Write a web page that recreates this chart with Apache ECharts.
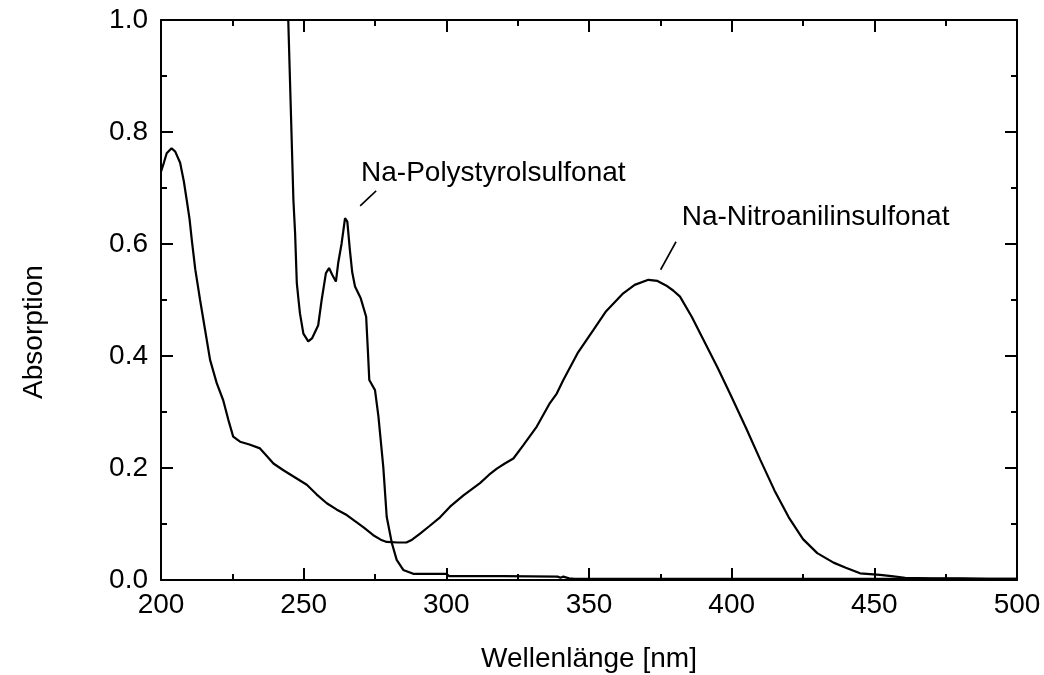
<!DOCTYPE html>
<html>
<head>
<meta charset="utf-8">
<script src="https://cdn.jsdelivr.net/npm/echarts@6/dist/echarts.min.js"></script>
<style>
  html, body { margin: 0; padding: 0; background: #fff; }
  #chart { width: 1044px; height: 675px; }
</style>
</head>
<body>
<div id="chart"></div>
<script>
// UV/Vis absorption spectra: [wavelength nm, absorbance]
const nitroanilinSpectrum = [
  [200, 0.729], [201, 0.745], [202, 0.762], [203.7, 0.771], [205, 0.765],
  [206.7, 0.745], [208, 0.712], [209, 0.679], [210, 0.645], [210.8, 0.607],
  [212, 0.555], [213.7, 0.50], [215.5, 0.445], [217.2, 0.393], [219.5, 0.352],
  [221.8, 0.321], [223.6, 0.286], [225.3, 0.256], [227.7, 0.247], [231, 0.242],
  [234.7, 0.235], [237, 0.222], [239.4, 0.208], [242.9, 0.196], [247, 0.183],
  [251.1, 0.170], [254.5, 0.153], [258.1, 0.137], [261.5, 0.126], [265.1, 0.116],
  [268, 0.105], [271, 0.094], [274.4, 0.080], [277, 0.072], [279.1, 0.068],
  [283, 0.067], [286, 0.067], [288, 0.072], [290.8, 0.083], [294, 0.096],
  [297.8, 0.112], [301.3, 0.131], [306, 0.151], [311.8, 0.173], [315, 0.188],
  [317.7, 0.199], [320.5, 0.208], [323.5, 0.217], [327, 0.241], [331.7, 0.274],
  [336.3, 0.316], [338.7, 0.333], [341, 0.357], [346, 0.405], [351.5, 0.446],
  [356, 0.480], [362, 0.512], [366, 0.527], [370.8, 0.536], [374, 0.534],
  [377, 0.526], [379.5, 0.517], [381.9, 0.506], [386, 0.470], [390.1, 0.429],
  [395, 0.380], [399.4, 0.333], [405, 0.272], [410, 0.215], [415, 0.160],
  [420, 0.112], [425, 0.073], [430, 0.048], [435.7, 0.031], [440, 0.022],
  [445, 0.012], [452, 0.009], [456, 0.007], [460.8, 0.004], [470, 0.003],
  [480, 0.003], [490, 0.002], [500, 0.002]
];

const polystyrolSpectrum = [
  [244.6, 1.0], [245.5, 0.84], [246.4, 0.679], [247, 0.619], [247.6, 0.530],
  [248.2, 0.50], [248.7, 0.476], [249.9, 0.44], [251.6, 0.426], [253, 0.432],
  [255.1, 0.455], [256.3, 0.50], [257.8, 0.548], [258.9, 0.557], [260, 0.545],
  [261.3, 0.533], [262.1, 0.566], [263.3, 0.601], [264.5, 0.646], [265.3, 0.640],
  [266.2, 0.589], [267, 0.55], [268, 0.524], [270, 0.503], [271.9, 0.470],
  [272.5, 0.41], [273, 0.357], [275, 0.339], [276.2, 0.292], [277.9, 0.202],
  [279.1, 0.113], [280.9, 0.066], [282.6, 0.036], [284.9, 0.018], [288.4, 0.011],
  [295, 0.011], [300, 0.011], [301, 0.007], [320, 0.007], [339, 0.006],
  [340, 0.004], [341, 0.006], [343, 0.003], [345, 0.002], [400, 0.002],
  [500, 0.002]
];

// Annotation text and leader lines, in data coordinates
const annotationTexts = [
  { text: 'Na-Polystyrolsulfonat', at: [270.1, 0.727] },
  { text: 'Na-Nitroanilinsulfonat', at: [382.5, 0.647] }
];
const leaderLines = [
  [[269.8, 0.668], [275.4, 0.695]],
  [[375.1, 0.554], [380.5, 0.604]]
];

const xTicks = { min: 200, max: 500, interval: 50 };
const yTicks = { min: 0, max: 1, interval: 0.2 };

const FONT = '"Liberation Sans", Arial, Helvetica, sans-serif';
const FONT_SIZE = 28;
const INK = '#000';

const chart = echarts.init(document.getElementById('chart'), null, { renderer: 'canvas' });

function frameAxis(base, extra) {
  return Object.assign({
    type: 'value',
    min: base.min,
    max: base.max,
    interval: base.interval,
    axisLine: { show: true, onZero: false, lineStyle: { color: INK, width: 2 } },
    axisTick: { show: true, inside: true, length: 12, lineStyle: { color: INK, width: 2 } },
    minorTick: { show: true, splitNumber: 2, length: 6, lineStyle: { color: INK, width: 2 } },
    splitLine: { show: false },
    minorSplitLine: { show: false }
  }, extra);
}

const lineStyle = { color: INK, width: 2.2 };

const series = [
  {
    type: 'line', name: 'Na-Nitroanilinsulfonat', data: nitroanilinSpectrum,
    showSymbol: false, symbol: 'none', lineStyle, clip: true, silent: true
  },
  {
    type: 'line', name: 'Na-Polystyrolsulfonat', data: polystyrolSpectrum,
    showSymbol: false, symbol: 'none', lineStyle, clip: true, silent: true
  }
].concat(leaderLines.map(seg => ({
  type: 'line', data: seg, showSymbol: false, symbol: 'none',
  lineStyle: { color: INK, width: 1.6 }, silent: true
})));

chart.setOption({
  animation: false,
  backgroundColor: '#fff',
  textStyle: { fontFamily: FONT, color: INK },
  grid: { left: 161, right: 27, top: 20, bottom: 95, containLabel: false, outerBoundsMode: 'none' },
  xAxis: [
    frameAxis(xTicks, {
      position: 'bottom',
      name: 'Wellenlänge [nm]',
      nameLocation: 'middle',
      nameGap: 65,
      nameTextStyle: { fontFamily: FONT, fontSize: FONT_SIZE, color: INK },
      axisLabel: { show: true, margin: 11, fontFamily: FONT, fontSize: FONT_SIZE, color: INK }
    }),
    frameAxis(xTicks, { position: 'top', axisLabel: { show: false } })
  ],
  yAxis: [
    frameAxis(yTicks, {
      position: 'left',
      axisLabel: {
        show: true, margin: 13, fontFamily: FONT, fontSize: FONT_SIZE, color: INK,
        formatter: v => v.toFixed(1)
      }
    }),
    frameAxis(yTicks, { position: 'right', axisLabel: { show: false } })
  ],
  series
});

// Place the curve labels and the y-axis title
const graphics = annotationTexts.map(a => {
  const p = chart.convertToPixel({ xAxisIndex: 0, yAxisIndex: 0 }, a.at);
  return {
    type: 'text', x: p[0], y: p[1], silent: true,
    style: {
      text: a.text, fill: INK, font: FONT_SIZE + 'px ' + FONT,
      textAlign: 'left', textVerticalAlign: 'middle'
    }
  };
});
graphics.push({
  type: 'text', x: 34, y: 332, rotation: Math.PI / 2, silent: true,
  style: {
    text: 'Absorption', fill: INK, font: FONT_SIZE + 'px ' + FONT,
    textAlign: 'center', textVerticalAlign: 'middle'
  }
});
chart.setOption({ graphic: graphics });
</script>
</body>
</html>
